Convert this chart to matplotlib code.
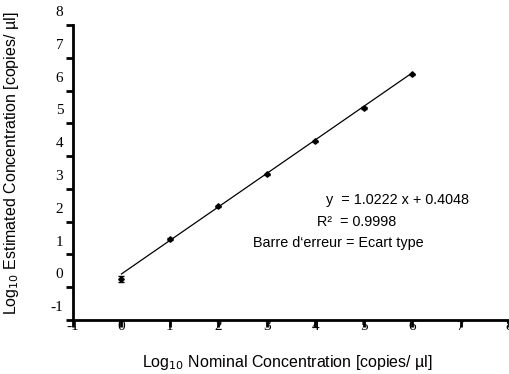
import matplotlib
matplotlib.use('Agg')
import matplotlib.pyplot as plt
import matplotlib.transforms as mtransforms
import numpy as np

plt.rcParams['font.family'] = ['Liberation Sans', 'DejaVu Sans']

# données
nominal = [0, 1, 2, 3, 4, 5, 6]
estimated = [0.25, 1.47, 2.47, 3.44, 4.45, 5.47, 6.49]
ecart = [0.10, 0.02, 0.02, 0.02, 0.02, 0.02, 0.02]
slope = 1.0222
intercept = 0.4048
r2 = 0.9998
ticks = [-1, 0, 1, 2, 3, 4, 5, 6, 7, 8]

W, H = 509, 374
fig = plt.figure(figsize=(W / 100, H / 100), dpi=100)
ax = fig.add_axes([73 / W, 1 - 320 / H, (509 - 73) / W, (320 - 25) / H])

# droite de régression
xf = np.array([nominal[0], nominal[-1]])
ax.plot(xf, slope * xf + intercept, color='black', lw=0.9)
ax.errorbar(nominal, estimated, yerr=ecart, fmt='D', color='black', ms=2.8,
            elinewidth=1.0, capsize=2.5, capthick=1.0)

ax.set_xlim(-1, 8)
ax.set_ylim(-1, 8)
ax.set_xticks(ticks)
ax.set_yticks(ticks)
ax.set_xticklabels([str(t) for t in ticks], family='Liberation Serif', fontsize=11)
ax.set_yticklabels([str(t) for t in ticks], family='Liberation Serif', fontsize=11)
for s in ['top', 'right']:
    ax.spines[s].set_visible(False)
for s in ['left', 'bottom']:
    ax.spines[s].set_linewidth(2.0)
    ax.spines[s].set_clip_on(False)
ax.tick_params(axis='both', direction='out', length=5, width=2.0)
ax.tick_params(axis='x', pad=-5)
ax.tick_params(axis='y', pad=2)

# décalage des étiquettes de l'axe y vers le haut
off = mtransforms.ScaledTranslation(0, 10 / 72, fig.dpi_scale_trans)
for lab in ax.get_yticklabels():
    lab.set_transform(lab.get_transform() + off)

fig.text(287 / W, 1 - 363 / H, 'Log$_{10}$ Nominal Concentration [copies/ µl]',
         ha='center', va='center', fontsize=11.5)
fig.text(12 / W, 1 - 163 / H, 'Log$_{10}$ Estimated Concentration [copies/ µl]',
         ha='center', va='center', rotation=90, fontsize=11.5)

fig.text(397 / W, 1 - 200 / H, 'y  = %.4f x + %.4f' % (slope, intercept),
         ha='center', va='center', fontsize=10.4)
fig.text(357 / W, 1 - 222 / H, 'R\u00b2  = %.4f' % r2,
         ha='center', va='center', fontsize=10.4)
fig.text(338 / W, 1 - 243 / H, 'Barre d\u2018erreur = Ecart type',
         ha='center', va='center', fontsize=10.4)

fig.savefig('out.png', dpi=100)
